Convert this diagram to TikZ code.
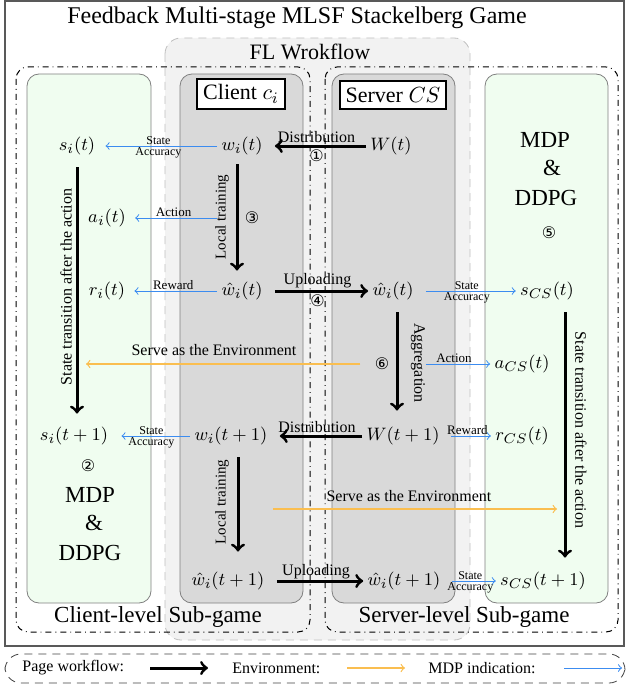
\documentclass[tikz,border=0pt]{standalone}
\usepackage{fontspec}
\setmainfont{Liberation Serif}
\newfontfamily\circfont{DejaVu Sans}
\usepackage{xcolor}
\usepackage{tikz}

\definecolor{envorange}{RGB}{250,190,80}
\definecolor{mdpblue}{RGB}{60,140,240}
\definecolor{panelgray}{RGB}{217,217,217}
\definecolor{flgray}{RGB}{242,242,242}
\definecolor{mdpgreen}{RGB}{240,253,240}

\begin{document}
\begin{tikzpicture}[x=0.5pt, y=-0.5pt,
    every node/.style={font=\rmfamily\fontsize{9.5}{11}\selectfont, inner sep=2pt},
    flow/.style={->, line width=1.5pt},
    mdp/.style={->, draw=mdpblue, line width=0.5pt},
    env/.style={->, draw=envorange, line width=0.6pt},
    lbl/.style={font=\rmfamily\fontsize{8}{9}\selectfont, inner sep=1pt},
    trainlbl/.style={font=\rmfamily\fontsize{7.5}{8}\selectfont, inner sep=0.5pt, rotate=90},
    smalllbl/.style={font=\rmfamily\fontsize{6}{6}\selectfont, inner sep=0.6pt, text=black},
    num/.style={font=\circfont\fontsize{8}{9}\selectfont, inner sep=1pt},
    big/.style={font=\rmfamily\fontsize{11.5}{13}\selectfont},
    panel/.style={draw=gray, rounded corners=6pt},
    subgame/.style={draw, dash dot, line width=0.5pt, rounded corners=6pt},
    role/.style={draw, line width=1pt, fill=white, font=\rmfamily\fontsize{11}{13}\selectfont, inner sep=3pt}
]
    \useasboundingbox (0,0) rectangle (627,690);

    % Frame and title
    \draw[gray!70!black, line width=0.8pt] (5,1) rectangle (624,646);
    \node[font=\rmfamily\fontsize{12}{14}\selectfont] (title) at (297,18) {Feedback Multi-stage MLSF Stackelberg Game};

    % FL workflow background
    \draw[fill=flgray, draw=gray!50, dash pattern=on 4pt off 3pt, rounded corners=8pt] (165,38) rectangle (470,640);
    \node[font=\rmfamily\fontsize{11}{13}\selectfont] (flwf) at (310,52) {FL Wrokflow};

    % Sub-games
    \draw[subgame] (16,67) rectangle (310,632);
    \draw[subgame] (325,67) rectangle (618,632);
    \node[big] (cgame) at (158,617) {Client-level Sub-game};
    \node[big] (sgame) at (464,617) {Server-level Sub-game};

    % Panels
    \draw[panel, fill=mdpgreen] (27,74) rectangle (151,603);
    \draw[panel, fill=panelgray] (180,74) rectangle (303,603);
    \draw[panel, fill=panelgray] (332,74) rectangle (455,603);
    \draw[panel, fill=mdpgreen] (485,74) rectangle (608,603);

    \node[role] (client) at (241,94) {Client $c_i$};
    \node[role] (server) at (393,95) {Server $CS$};

    % Client-level MDP
    \node (si) at (77,146) {$s_i(t)$};
    \node (ai) at (107,218) {$a_i(t)$};
    \node (ri) at (107,291) {$r_i(t)$};
    \node (sin) at (74,436) {$s_i(t+1)$};
    \node[num] (n2) at (88,466) {②};
    \node[big] (mdpL) at (90,495) {MDP};
    \node[big] (ampL) at (94,523) {\&};
    \node[big] (ddpgL) at (90,553) {DDPG};

    % Client
    \node (wi) at (242,146) {$w_i(t)$};
    \node (wih) at (242,291) {$\hat{w}_i(t)$};
    \node (win) at (231,436) {$w_i(t+1)$};
    \node (winh) at (228,581) {$\hat{w}_i(t+1)$};

    % Server
    \node (Wt) at (391,146) {$W(t)$};
    \node (Wsh) at (393,291) {$\hat{w}_i(t)$};
    \node (Wn) at (403,436) {$W(t+1)$};
    \node (Wshn) at (404,581) {$\hat{w}_i(t+1)$};

    % Server-level MDP
    \node[big] (mdpR) at (545,140) {MDP};
    \node[big] (ampR) at (552,168) {\&};
    \node[big] (ddpgR) at (546,198) {DDPG};
    \node[num] (n5) at (549,233) {⑤};
    \node (scs) at (547,291) {$s_{CS}(t)$};
    \node (acs) at (522,364) {$a_{CS}(t)$};
    \node (rcs) at (522,436) {$r_{CS}(t)$};
    \node (scsn) at (543,581) {$s_{CS}(t+1)$};

    % Workflow arrows
    \draw[flow, shorten >=4pt] (Wt) -- (wi) node[midway, above, lbl] {Distribution} node[midway, below, num] {①};
    \draw[flow, shorten <=2.5pt, shorten >=3.5pt] ([xshift=-2.5pt]wi.south) -- ([xshift=-2.5pt]wih.north);
    \node[trainlbl] (lt1) at (222,217) {Local training};
    \node[num] (n3) at (252,218) {③};
    \draw[flow, shorten <=4pt] (wih) -- (Wsh) node[midway, above, lbl] {Uploading} node[midway, below, num] {④};
    \draw[flow, shorten <=4pt, shorten >=6pt] ([xshift=2pt]Wsh.south) -- ([xshift=2pt]Wsh.south |- Wn.north);
    \node[lbl, rotate=-90] (agg) at (418,363) {Aggregation};
    \node[num] (n6) at (382,364) {⑥};
    \draw[flow, shorten >=4pt] (Wn) -- (win) node[midway, above, lbl] {Distribution};
    \draw[flow, shorten <=4pt, shorten >=8pt] ([xshift=5pt]winh.north |- win.south) -- ([xshift=5pt]winh.north);
    \node[trainlbl] (lt2) at (222,502) {Local training};
    \draw[flow, shorten <=4pt] (winh) -- (Wshn) node[midway, above, lbl, inner sep=0.5pt] {Uploading};

    % State transitions
    \draw[flow, shorten <=4pt, shorten >=4.5pt] (si.south) -- (si.south |- sin.north);
    \node[lbl, rotate=90] (stL) at (66,287) {State transition after the action};
    \draw[flow, shorten <=4pt, shorten >=5pt] ([xshift=9pt]scs.south) -- ([xshift=9pt]scs.south |- scsn.north);
    \node[lbl, rotate=-90] (stR) at (581,430) {State transition after the action};

    % MDP indications
    \draw[mdp, shorten >=3pt] (wi) -- (si) node[midway, above, smalllbl] {State} node[midway, below, smalllbl] {Accuracy};
    \draw[mdp, shorten >=2.5pt] (wi.west |- ai) -- (ai) node[midway, above, smalllbl, font=\rmfamily\fontsize{6.5}{7}\selectfont] {Action};
    \draw[mdp, shorten >=2.5pt] (wih) -- (ri) node[midway, above, smalllbl, font=\rmfamily\fontsize{6.5}{7}\selectfont] {Reward};
    \draw[mdp, shorten >=4.5pt] (win) -- (sin) node[midway, above, smalllbl] {State} node[midway, below, smalllbl] {Accuracy};
    \draw[mdp, shorten <=4pt] (Wsh) -- (scs) node[midway, above, smalllbl] {State} node[midway, below, smalllbl] {Accuracy};
    \draw[mdp, shorten <=4pt] (Wsh.east |- acs) -- (acs) node[midway, above, smalllbl, font=\rmfamily\fontsize{6.5}{7}\selectfont] {Action};
    \draw[mdp, shorten <=3.5pt] (Wn) -- (rcs) node[midway, above, smalllbl, font=\rmfamily\fontsize{6.5}{7}\selectfont] {Reward};
    \draw[mdp, shorten <=3.5pt] (Wshn) -- (scsn) node[midway, above, smalllbl] {State} node[midway, below, smalllbl] {Accuracy};

    % Environment
    \draw[env, shorten >=4.5pt] ([xshift=-6pt]n6.west) -- (n6 -| si.south);
    \node[lbl] (envlbl1) at (214,350) {Serve as the Environment};
    \coordinate (envC) at (273,509);
    \coordinate (envD) at (557,509);
    \draw[env] (envC) -- (envD);
    \node[lbl] (envlbl2) at (409,496) {Serve as the Environment};

    % Legend
    \draw[gray!50!black, dash pattern=on 4pt off 3pt, rounded corners=8pt] (5,654) rectangle (625,683);
    \node[lbl, anchor=west] (lgflow) at (20,668) {Page workflow:};
    \coordinate (lgf1) at (150,668);
    \coordinate (lgf2) at (208,668);
    \draw[flow] (lgf1) -- (lgf2);
    \node[lbl, anchor=west] (lgenv) at (230,668) {Environment:};
    \coordinate (lge1) at (347,668);
    \coordinate (lge2) at (405,668);
    \draw[env] (lge1) -- (lge2);
    \node[lbl, anchor=west] (lgmdp) at (426,668) {MDP indication:};
    \coordinate (lgm1) at (564,668);
    \coordinate (lgm2) at (622,668);
    \draw[mdp] (lgm1) -- (lgm2);
\end{tikzpicture}
\end{document}
